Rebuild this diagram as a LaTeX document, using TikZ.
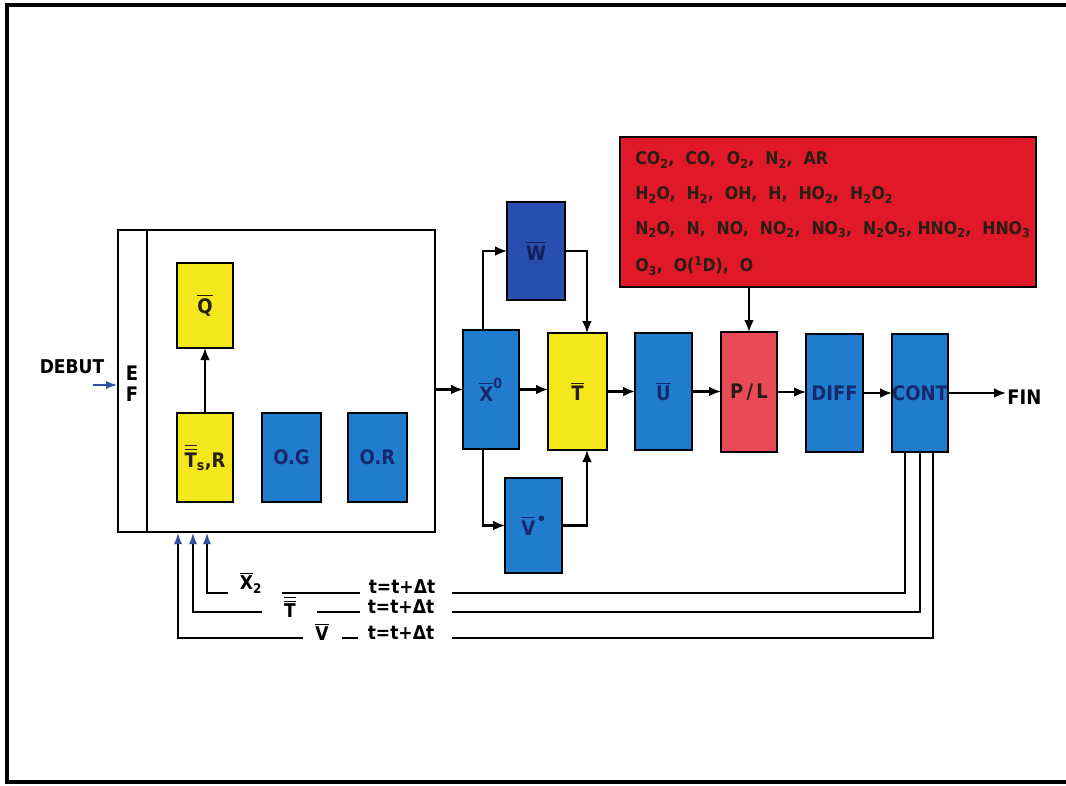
\documentclass[tikz,border=0pt]{standalone}
\usepackage{amsmath}
\usepackage{fontspec}
\setmainfont{DejaVu Sans Condensed}
\usetikzlibrary{arrows.meta,calc}
\definecolor{ybox}{RGB}{243,232,28}
\definecolor{bbox}{RGB}{32,124,204}
\definecolor{wbox}{RGB}{40,78,178}
\definecolor{rbox}{RGB}{224,24,40}
\definecolor{pbox}{RGB}{232,74,88}
\definecolor{navy}{RGB}{22,40,110}
\definecolor{dtext}{RGB}{40,30,20}
\definecolor{arrblue}{RGB}{48,80,160}
\begin{document}
\begin{tikzpicture}[x=1pt,y=-1pt,line width=2.7pt,
  box/.style={draw=black,line width=2.7pt,inner sep=0pt,outer sep=0pt},
  lab/.style={font=\fontsize{20}{22}\bfseries\selectfont},
  bluebox/.style={box,fill=bbox,text=navy,lab},
  yelbox/.style={box,fill=ybox,text=dtext,lab},
  arr/.style={-{Latex[length=12pt,width=10pt]}},
  barr/.style={-{Latex[length=12pt,width=8pt,color=arrblue]}},
  chem/.style={anchor=west,text=dtext,font=\fontsize{17.5}{19}\bfseries\selectfont,inner sep=0pt},
  tlab/.style={text=black,font=\fontsize{19}{20}\bfseries\selectfont,inner sep=0pt}]
\useasboundingbox (0,0) rectangle (1066,785);
% frame
\draw[line width=3.2pt] (1066,5) -- (7,5) -- (7,782) -- (1066,782);

% left big box
\node[box,minimum width=317pt,minimum height=302pt] (L) at (276.5,381) {};
\draw ([xshift=29pt]L.north west) -- ([xshift=29pt]L.south west);
\node[lab] (E) at (132,373) {E};
\node[lab] (F) at (132,394) {F};
\node[font=\fontsize{19}{20}\bfseries\selectfont] (debut) at (72,367) {DEBUT};
\coordinate (deb) at (93,385);
\draw[barr,draw=arrblue] (deb) -- (deb -| L.west);

\node[yelbox,minimum width=56pt,minimum height=85pt] (Q) at (205,305.5) {$\overline{\text{Q}}$};
\node[yelbox,minimum width=56pt,minimum height=89pt] (TS) at (205,457.5) {$\overline{\overline{\text{T}}}_{\text{s}}$,R};
\node[bluebox,minimum width=59pt,minimum height=89pt] (OG) at (291.5,457.5) {O.G};
\node[bluebox,minimum width=59pt,minimum height=89pt] (OR) at (377.5,457.5) {O.R};
\draw[arr] (TS.north) -- (Q.south);

% middle chain
\node[bluebox,minimum width=56pt,minimum height=119pt] (X) at (491,389.5) {$\overline{\text{X}}^{\text{0}}$};
\node[box,fill=wbox,text=navy!80!black,lab,minimum width=58pt,minimum height=98pt] (W) at (536,251) {$\overline{\text{W}}$};
\node[yelbox,minimum width=59pt,minimum height=117pt] (T) at (577.5,391.5) {$\overline{\text{T}}$};
\node[bluebox,minimum width=57pt,minimum height=117pt] (U) at (663.5,391.5) {$\overline{\text{U}}$};
\node[bluebox,minimum width=57pt,minimum height=95pt] (V) at (533.5,525.5) {$\overline{\text{V}}^{\,\bullet}$};
\node[box,fill=pbox,text=dtext,lab,minimum width=56pt,minimum height=120pt] (PL) at (749,392) {P\,/\,L};
\node[bluebox,minimum width=57pt,minimum height=118pt] (DIFF) at (834.5,393) {DIFF};
\node[bluebox,minimum width=56pt,minimum height=118pt] (CONT) at (920,393) {CONT};
\node[lab,anchor=west,inner sep=0pt] (FIN) at (1006,397) {FIN};

\node[box,fill=rbox,minimum width=416pt,minimum height=150pt] (RED) at (828,212) {};
\node[chem] (r1) at (634,160) {CO\textsubscript{2}, \ CO, \ O\textsubscript{2}, \ N\textsubscript{2}, \ AR};
\node[chem] (r2) at (634,195) {H\textsubscript{2}O, \ H\textsubscript{2}, \ OH, \ H, \ HO\textsubscript{2}, \ H\textsubscript{2}O\textsubscript{2}};
\node[chem] (r3) at (634,230) {N\textsubscript{2}O, \ N, \ NO, \ NO\textsubscript{2}, \ NO\textsubscript{3}, \ N\textsubscript{2}O\textsubscript{5}, HNO\textsubscript{2}, \ HNO\textsubscript{3}};
\node[chem] (r4) at (634,266) {O\textsubscript{3}, \ O(\textsuperscript{1}D), \ O};

% main flow
\draw[arr] (L.east |- X.west) -- (X.west);
\draw[arr] (X.east) -- (X.east -| T.west);
\draw[arr] (T.east) -- (T.east -| U.west);
\draw[arr] (U.east) -- (U.east -| PL.west);
\draw[arr] (PL.east) -- (PL.east -| DIFF.west);
\draw[arr] (DIFF.east) -- (DIFF.east -| CONT.west);
\draw[arr] (CONT.east) -- (CONT.east -| FIN.west);
\draw[arr] ([xshift=-8pt]X.north) |- (W.west);
\draw[arr] (W.east) -| ([xshift=9.5pt]T.north);
\draw[arr] ([xshift=-8pt]X.south) |- (V.west);
\draw[arr] (V.east) -| ([xshift=9.5pt]T.south);
\draw[arr] (PL.north |- RED.south) -- (PL.north);

% feedback loops
\node[tlab] (t1) at (402,587) {t=t+Δt};
\node[tlab] (t2) at (401,607) {t=t+Δt};
\node[tlab] (t3) at (401,633) {t=t+Δt};
\node[tlab] (x2) at (251,583) {$\overline{\text{X}}_{\text{2}}$};
\node[tlab] (tt) at (290,607) {$\overline{\overline{\text{T}}}$};
\node[tlab] (vv) at (322,632) {$\overline{\text{V}}$};

\coordinate (a1) at (452,593);
\coordinate (a2) at (452,612);
\coordinate (a3) at (452,638);
\draw ([xshift=-15pt]CONT.south) |- (a1);
\draw ([xshift=0pt]CONT.south) |- (a2);
\draw ([xshift=13pt]CONT.south) |- (a3);
\coordinate (m1a) at (282,593); \coordinate (m1b) at (360,593);
\coordinate (m2a) at (317,612); \coordinate (m2b) at (360,612);
\coordinate (m3a) at (342,638); \coordinate (m3b) at (358,638);
\draw (m1a) -- (m1b);
\draw (m2a) -- (m2b);
\draw (m3a) -- (m3b);
\coordinate (e1) at (228,593);
\coordinate (e2) at (262,612);
\coordinate (e3) at (303,638);
\draw[barr] (e1) -| ([xshift=-69.5pt]L.south);
\draw[barr] (e2) -| ([xshift=-83.5pt]L.south);
\draw[barr] (e3) -| ([xshift=-98.5pt]L.south);
\end{tikzpicture}
\end{document}
